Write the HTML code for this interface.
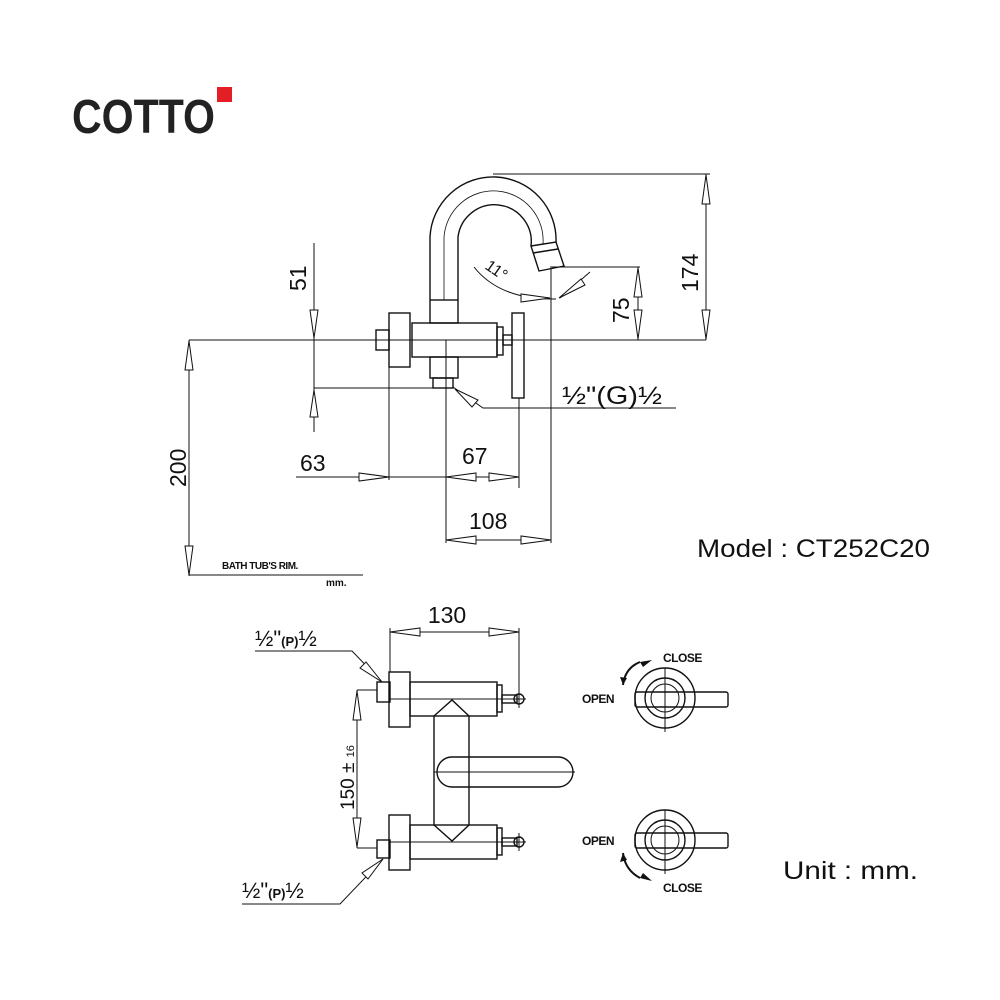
<!DOCTYPE html>
<html><head><meta charset="utf-8"><style>
html,body{margin:0;padding:0;background:#fff;}
svg{display:block}
text{font-family:"Liberation Sans",sans-serif;fill:#111}
</style></head><body>
<svg width="1000" height="1000" viewBox="0 0 1000 1000" xmlns="http://www.w3.org/2000/svg">
<text x="72" y="133" font-size="48" font-weight="bold" textLength="143" lengthAdjust="spacingAndGlyphs" style="fill:#222">COTTO</text>
<rect x="217" y="87" width="15" height="15" fill="#e31e24"/>

<g fill="none" stroke="#111" stroke-width="1.4">
<path d="M430,300 L430,237 A63,63 0 0 1 556,243"/>
<path d="M458,300 L458,237 A35,35 0 0 1 531,246"/>
<path d="M444,300 L444,237 A49,49 0 0 1 543,244" stroke-width="0.8"/>
<polygon points="531,246 556,242 564,266 539,271"/>
<line x1="533" y1="253" x2="558" y2="249"/>
<rect x="430" y="300" width="28" height="23"/>
<rect x="430" y="357" width="28" height="21"/>
<rect x="433" y="378" width="20" height="10"/>
<rect x="412" y="323" width="85" height="34"/>
<rect x="497" y="327" width="6" height="28"/>
<rect x="503" y="335" width="9" height="10"/>
<rect x="512" y="313" width="12" height="85"/>
<rect x="389" y="313" width="21" height="54"/>
<rect x="376" y="330" width="13" height="20"/>
<line x1="189" y1="340" x2="706" y2="340" stroke-width="1"/>
<line x1="314" y1="243" x2="314" y2="432" stroke-width="1"/>
<line x1="314" y1="388" x2="433" y2="388" stroke-width="1"/>
<line x1="189" y1="340" x2="189" y2="576" stroke-width="1"/>
<line x1="189" y1="575" x2="363" y2="575" stroke-width="1"/>
<line x1="296" y1="477" x2="519" y2="477" stroke-width="1"/>
<line x1="389" y1="367" x2="389" y2="480" stroke-width="1"/>
<line x1="519" y1="398" x2="519" y2="488" stroke-width="1"/>
<line x1="446" y1="340" x2="446" y2="543" stroke-width="1"/>
<line x1="551" y1="266" x2="551" y2="543" stroke-width="1"/>
<line x1="446" y1="540" x2="551" y2="540" stroke-width="1"/>
<line x1="552" y1="267" x2="640" y2="267" stroke-width="1"/>
<line x1="638" y1="267" x2="638" y2="340" stroke-width="1"/>
<line x1="493" y1="174" x2="710" y2="174" stroke-width="1"/>
<line x1="706" y1="174" x2="706" y2="340" stroke-width="1"/>
<path d="M474,267 Q500,300 556,299" stroke-width="1"/>
<line x1="590" y1="272" x2="560" y2="298" stroke-width="1"/>
<polyline points="453,387 483,408 676,408" stroke-width="1"/>
</g>

<g fill="#fff" stroke="#111" stroke-width="1">
<polygon points="314,338 310,310 318,310"/>
<polygon points="314,390 310,417 318,417"/>
<polygon points="189,341 185,370 193,370"/>
<polygon points="189,575 185,546 193,546"/>
<polygon points="389,477 359,473 359,481"/>
<polygon points="446,477 476,473 476,481"/>
<polygon points="519,477 489,473 489,481"/>
<polygon points="446,540 476,536 476,544"/>
<polygon points="551,540 521,536 521,544"/>
<polygon points="638,268 634,297 642,297"/>
<polygon points="638,339 634,310 642,310"/>
<polygon points="706,175 702,204 710,204"/>
<polygon points="706,339 702,310 710,310"/>
<polygon points="550,298 521,294 521,302"/>
<polygon points="559,298 581,279 585,285"/>
<polygon points="455,389 478,400 472,407"/>
</g>

<text x="0" y="0" font-size="23" transform="translate(306,291) rotate(-90)">51</text>
<text x="0" y="0" font-size="23" transform="translate(186,487) rotate(-90)">200</text>
<text x="0" y="0" font-size="23" transform="translate(629,323) rotate(-90)">75</text>
<text x="0" y="0" font-size="23" transform="translate(698,292) rotate(-90)">174</text>
<text x="300" y="471" font-size="23">63</text>
<text x="462" y="464" font-size="23">67</text>
<text x="469" y="529" font-size="23">108</text>
<text x="0" y="0" font-size="16" transform="translate(484,268) rotate(35)">11°</text>
<text x="562" y="404" font-size="25" textLength="100" lengthAdjust="spacingAndGlyphs">½"(G)½</text>
<text x="222" y="569" font-size="10" font-weight="bold" letter-spacing="-0.5">BATH TUB'S RIM.</text>
<text x="326" y="586" font-size="10" font-weight="bold">mm.</text>
<text x="697" y="557" font-size="25" textLength="233" lengthAdjust="spacingAndGlyphs">Model : CT252C20</text>
<text x="783" y="879" font-size="25" textLength="135" lengthAdjust="spacingAndGlyphs">Unit : mm.</text>

<g fill="none" stroke="#111" stroke-width="1.4">
<rect x="389" y="672" width="21" height="55"/>
<rect x="377" y="682" width="13" height="20"/>
<rect x="410" y="682" width="87" height="34"/>
<rect x="497" y="685" width="5" height="27"/>
<rect x="502" y="695" width="15" height="8"/>
<circle cx="519" cy="699" r="5"/>
<rect x="389" y="815" width="21" height="55"/>
<rect x="377" y="840" width="13" height="18"/>
<rect x="410" y="825" width="87" height="34"/>
<rect x="497" y="828" width="5" height="27"/>
<rect x="502" y="838" width="15" height="8"/>
<circle cx="519" cy="842" r="5"/>
<polyline points="434,716 452,700 469,716"/>
<polyline points="434,825 452,841 469,825"/>
<line x1="434" y1="716" x2="434" y2="825"/>
<line x1="469" y1="716" x2="469" y2="825"/>
<rect x="437" y="757" width="136" height="30" rx="15"/>
<line x1="434" y1="772" x2="575" y2="772" stroke-width="1"/>
<line x1="390" y1="699" x2="526" y2="699" stroke-width="1"/>
<line x1="390" y1="842" x2="526" y2="842" stroke-width="1"/>
<line x1="519" y1="690" x2="519" y2="708" stroke-width="1"/>
<line x1="519" y1="833" x2="519" y2="851" stroke-width="1"/>
<line x1="390" y1="632" x2="519" y2="632" stroke-width="1"/>
<line x1="390" y1="628" x2="390" y2="672" stroke-width="1"/>
<line x1="519" y1="628" x2="519" y2="700" stroke-width="1"/>
<line x1="357" y1="690" x2="357" y2="848" stroke-width="1"/>
<line x1="357" y1="690" x2="377" y2="690" stroke-width="1"/>
<line x1="357" y1="848" x2="377" y2="848" stroke-width="1"/>
<polyline points="255,651 352,651 382,682" stroke-width="1"/>
<polyline points="242,904 340,904 383,859" stroke-width="1"/>
<circle cx="665" cy="698" r="30"/>
<circle cx="665" cy="698" r="20"/>
<circle cx="665" cy="698" r="14" stroke-width="1"/>
<rect x="635" y="692" width="93" height="15" rx="2"/>
<line x1="665" y1="668" x2="665" y2="732" stroke-width="1"/>
<circle cx="665" cy="840" r="30"/>
<circle cx="665" cy="840" r="20"/>
<circle cx="665" cy="840" r="14" stroke-width="1"/>
<rect x="635" y="833" width="93" height="15" rx="2"/>
<line x1="665" y1="810" x2="665" y2="874" stroke-width="1"/>
<path d="M623,685 Q625,668 640,662" stroke-width="2"/>
<path d="M623,853 Q625,870 640,878" stroke-width="2"/>
</g>
<g fill="#fff" stroke="#111" stroke-width="1">
<polygon points="390,632 420,628 420,636"/>
<polygon points="519,632 489,628 489,636"/>
<polygon points="357,691 353,720 361,720"/>
<polygon points="357,847 353,818 361,818"/>
<polygon points="382,682 360,668 366,662"/>
<polygon points="383,859 362,873 368,879"/>
</g>
<g fill="#111">
<polygon points="640,662 652,660 643,667"/>
<polygon points="623,685 620,677 627,678"/>
<polygon points="640,878 652,881 643,873"/>
<polygon points="623,853 620,862 627,860"/>
</g>
<text x="0" y="0" font-size="19" transform="translate(354,810) rotate(-90)">150 ± <tspan font-size="11">16</tspan></text>
<text x="447" y="623" font-size="23" text-anchor="middle">130</text>
<text x="255" y="646" font-size="22">½"<tspan font-size="13" font-weight="bold">(P)</tspan>½</text>
<text x="242" y="898" font-size="22">½"<tspan font-size="13" font-weight="bold">(P)</tspan>½</text>
<text x="663" y="662" font-size="12" font-weight="bold" letter-spacing="-0.5">CLOSE</text>
<text x="582" y="703" font-size="12" font-weight="bold" letter-spacing="-0.5">OPEN</text>
<text x="582" y="845" font-size="12" font-weight="bold" letter-spacing="-0.5">OPEN</text>
<text x="663" y="892" font-size="12" font-weight="bold" letter-spacing="-0.5">CLOSE</text>
</svg>
</body></html>
